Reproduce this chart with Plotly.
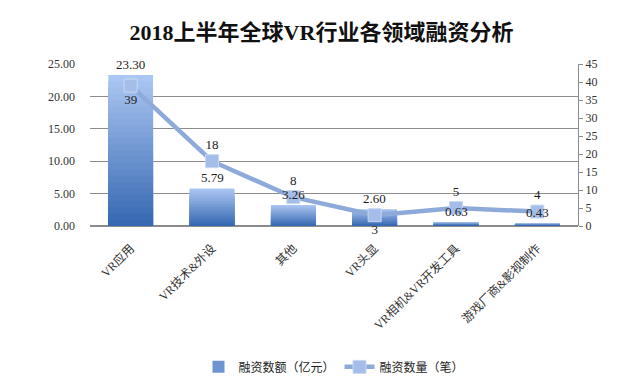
import plotly.graph_objects as go

categories = ["VR应用", "VR技术&外设", "其他", "VR头显", "VR相机&VR开发工具", "游戏厂商&影视制作"]
amount = [23.30, 5.79, 3.26, 2.60, 0.63, 0.43]
count = [39, 18, 8, 3, 5, 4]
left_ticks = [0, 5, 10, 15, 20, 25]
right_ticks = [0, 5, 10, 15, 20, 25, 30, 35, 40, 45]

fig = go.Figure()

# Gradient bars via overlaid layers (light at top, dark at bottom)
N = 24
top_c = (170, 198, 242)
bot_c = (55, 105, 178)
for k in range(N):
    frac = (N - k) / N
    t = k / (N - 1)
    c = tuple(int(top_c[i] + (bot_c[i] - top_c[i]) * t) for i in range(3))
    fig.add_trace(go.Bar(
        x=categories, y=[v * frac for v in amount],
        marker=dict(color="rgb(%d,%d,%d)" % c, line=dict(width=0)),
        width=0.55, name="融资数额（亿元）",
        showlegend=(k == N // 2), legendgroup="amt", hoverinfo="skip" if k else None,
    ))

fig.add_trace(go.Scatter(
    x=categories, y=count, yaxis="y2", mode="lines+markers+text",
    name="融资数量（笔）",
    line=dict(color="#8eaadb", width=4.5),
    marker=dict(symbol="square", size=13, color="#a4bee9", line=dict(color="#c9d8f2", width=1)),
    text=[str(v) for v in count],
    textposition=["bottom center", "top center", "top center", "bottom center", "top center", "top center"],
    textfont=dict(family="Liberation Serif, serif", size=13, color="#222"),
    cliponaxis=False,
))

# bar labels as annotations (drawn above everything)
for cat, v in zip(categories, amount):
    fig.add_annotation(x=cat, y=v, xref="x", yref="y", text="%.2f" % v,
                       showarrow=False, yanchor="bottom", yshift=1,
                       font=dict(family="Liberation Serif, serif", size=13, color="#222"))

fig.update_layout(
    width=627, height=386,
    margin=dict(l=82, r=57, t=56, b=164),
    paper_bgcolor="white", plot_bgcolor="white",
    barmode="overlay",
    title=dict(text="<b>2018上半年全球VR行业各领域融资分析</b>", x=0.5, xanchor="center",
               y=0.938, yanchor="middle",
               font=dict(family="Liberation Serif, Noto Sans CJK SC", size=22, color="#111")),
    xaxis=dict(tickangle=-45, showline=False, showgrid=False, ticklabelstandoff=12,
               tickfont=dict(family="Liberation Serif, Noto Sans CJK SC", size=12, color="#333")),
    yaxis=dict(range=[0, 25], tickvals=left_ticks, ticktext=["%.2f" % v for v in left_ticks],
               showgrid=True, gridcolor="#8c8c8c", gridwidth=1, zeroline=True, zerolinecolor="#8c8c8c",
               showline=False, ticks="", ticklabelstandoff=14,
               tickfont=dict(family="Liberation Serif, serif", size=12, color="#333")),
    yaxis2=dict(range=[0, 45], tickvals=right_ticks, overlaying="y", side="right",
                showgrid=False, zeroline=False, showline=True, linecolor="#8c8c8c",
                ticks="outside", ticklen=4, tickcolor="#8c8c8c",
                tickfont=dict(family="Liberation Serif, serif", size=12, color="#333")),
    legend=dict(orientation="h", x=0.5, xanchor="center", y=-0.78, yanchor="top",
                font=dict(family="Noto Sans CJK SC", size=12, color="#222")),
    showlegend=True,
)

fig.write_html("out.html")
